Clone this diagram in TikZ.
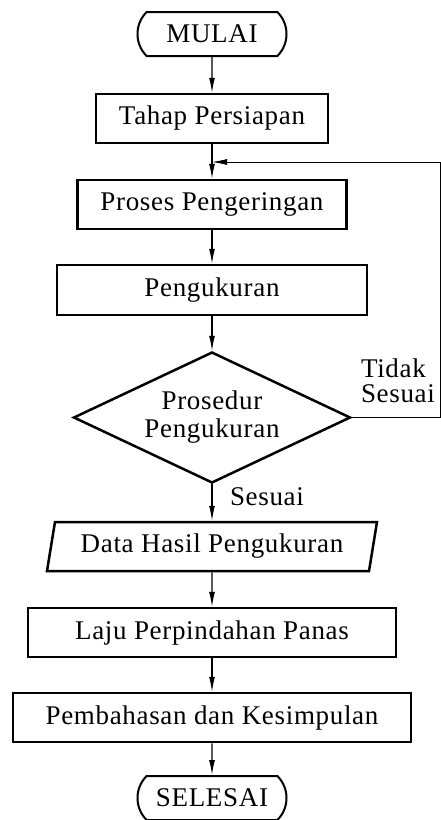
\documentclass[tikz,border=0pt]{standalone}
\usepackage{fontspec}
\setmainfont{Liberation Serif}[LetterSpace=2.5]
\usetikzlibrary{shapes,arrows.meta}

\begin{document}
\begin{tikzpicture}[x=1pt,y=-1pt,
  every node/.style={font=\fontsize{27}{28}\selectfont},
  kotak/.style={shape=rectangle,draw=black,align=center,line width=2.5pt,minimum height=49pt,inner sep=0pt},
  terminal/.style={shape=rounded rectangle,rounded rectangle arc length=90,draw=black,line width=2pt,minimum width=149pt,minimum height=44pt,inner sep=0pt},
  teks/.style={align=left,inner sep=0pt},
  panah/.style={->,draw=black,line width=1.2pt},
  >={Latex[length=15pt,width=6pt]}]
\useasboundingbox (0,0) rectangle (441,820);
\node[terminal] (0) at (212,34) {MULAI};
\node[kotak,minimum width=232pt] (1) at (212,118.5) {Tahap Persiapan};
\node[kotak,minimum width=269pt] (2) at (212,204.5) {Proses Pengeringan};
\node[kotak,minimum width=310pt,minimum height=50pt] (3) at (212,290) {Pengukuran};
\node[shape=diamond,draw=black,align=center,line width=2.5pt,aspect=2.1,minimum width=277pt,minimum height=131pt,inner sep=2pt] (4) at (212,417.5) {Prosedur\\Pengukuran};
\node[shape=trapezium,trapezium left angle=72,trapezium right angle=108,trapezium stretches body,draw=black,line width=2.5pt,minimum width=330pt,minimum height=49pt,inner sep=0pt] (5) at (212,546.5) {Data Hasil Pengukuran};
\node[kotak,minimum width=368pt] (6) at (212,632.5) {Laju Perpindahan Panas};
\node[kotak,minimum width=398pt] (7) at (212,717.5) {Pembahasan dan Kesimpulan};
\node[terminal] (8) at (212,798) {SELESAI};
\node[teks,font=\fontsize{27}{25}\selectfont] (9) at (398,381) {Tidak\\Sesuai};
\node[teks] (10) at (267,497) {Sesuai};
\coordinate (11) at (212,162);

\path [panah] (0) edge (1);
\path [panah] (1) edge (2);
\path [panah] (2) edge (3);
\path [panah] (3) edge (4);
\path [panah] (4) edge (5);
\path [panah] (5) edge (6);
\path [panah] (6) edge (7);
\path [panah] (7) edge (8);
\draw [->,draw=black,line width=0.8pt] (4.east) -- ++(89,0) |- (11);
\end{tikzpicture}
\end{document}
